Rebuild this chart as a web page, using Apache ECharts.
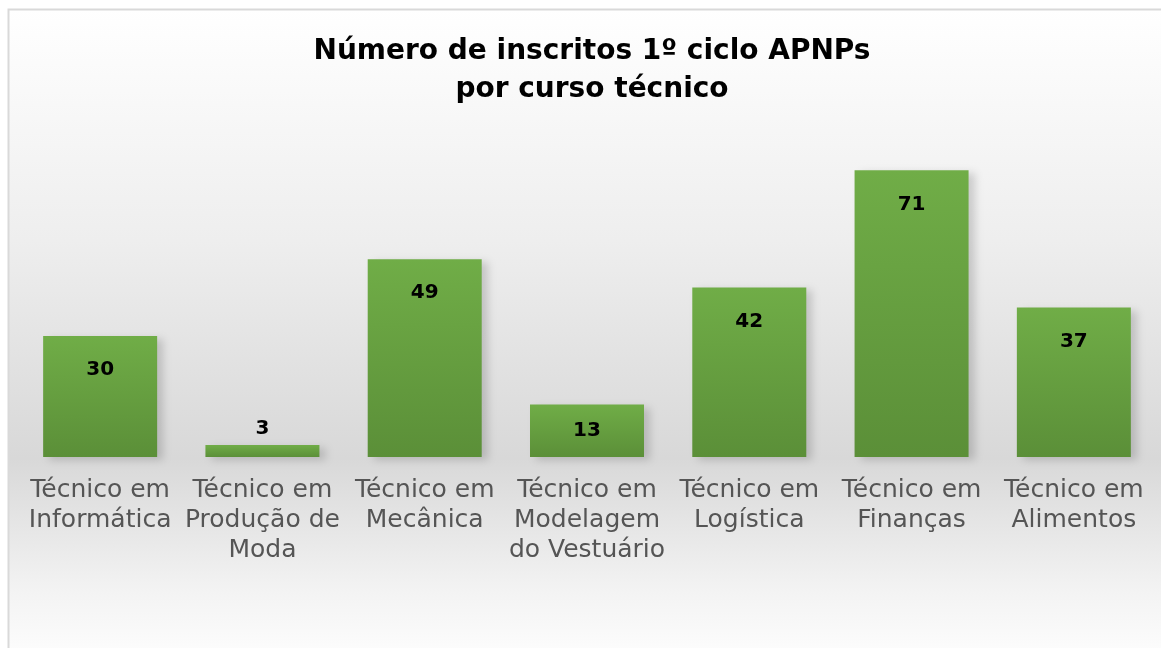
<!DOCTYPE html>
<html>
<head>
<meta charset="utf-8">
<script src="https://cdn.jsdelivr.net/npm/echarts@6/dist/echarts.min.js"></script>
<style>
html,body{margin:0;padding:0;background:#ffffff;}
#chart{width:1161px;height:648px;}
</style>
</head>
<body>
<div id="chart"></div>
<script>
const titleText = 'Número de inscritos 1º ciclo APNPs\npor curso técnico';
const categories = [
  'Técnico em\nInformática',
  'Técnico em\nProdução de\nModa',
  'Técnico em\nMecânica',
  'Técnico em\nModelagem\ndo Vestuário',
  'Técnico em\nLogística',
  'Técnico em\nFinanças',
  'Técnico em\nAlimentos'
];
const values = [30, 3, 49, 13, 42, 71, 37];

const chart = echarts.init(document.getElementById('chart'), null, {renderer: 'canvas'});

const seriesData = values.map(function (v) {
  let label;
  if (v < 8) {
    label = {position: 'top', distance: 6};
  } else if (v < 20) {
    label = {position: 'inside'};
  } else {
    label = {position: 'insideTop', distance: 24};
  }
  return {value: v, label: label};
});

chart.setOption({
  animation: false,
  graphic: [{
    type: 'rect',
    z: -10,
    silent: true,
    shape: {x: 8.5, y: 9.5, width: 1170, height: 660},
    style: {
      fill: new echarts.graphic.LinearGradient(0, 0, 0, 1, [
        {offset: 0, color: '#ffffff'},
        {offset: 0.35, color: '#eeeeee'},
        {offset: 0.68, color: '#d8d8d8'},
        {offset: 0.88, color: '#f3f3f3'},
        {offset: 1, color: '#ffffff'}
      ]),
      stroke: '#d9d9d9',
      lineWidth: 2
    }
  }],
  title: {
    text: titleText,
    left: 587,
    textAlign: 'center',
    top: 28,
    textStyle: {
      fontFamily: 'DejaVu Sans, Arial, sans-serif',
      fontWeight: 'bold',
      fontSize: 28,
      lineHeight: 38,
      color: '#000000'
    }
  },
  grid: {
    left: 19,
    right: 6,
    top: 134,
    bottom: 191,
    containLabel: false
  },
  xAxis: {
    type: 'category',
    data: categories,
    axisLine: {show: false},
    axisTick: {show: false},
    axisLabel: {
      interval: 0,
      margin: 18,
      fontFamily: 'DejaVu Sans, Arial, sans-serif',
      fontSize: 25,
      lineHeight: 30,
      color: '#555555'
    }
  },
  yAxis: {
    type: 'value',
    min: 0,
    max: 80,
    show: false,
    splitLine: {show: false}
  },
  series: [{
    type: 'bar',
    data: seriesData,
    barWidth: 114,
    itemStyle: {
      color: new echarts.graphic.LinearGradient(0, 0, 0, 1, [
        {offset: 0, color: '#70ad47'},
        {offset: 1, color: '#5b8f38'}
      ]),
      shadowColor: 'rgba(0,0,0,0.16)',
      shadowBlur: 8,
      shadowOffsetX: 6,
      shadowOffsetY: 3
    },
    label: {
      show: true,
      fontFamily: 'DejaVu Sans, Arial, sans-serif',
      fontWeight: 'bold',
      fontSize: 20,
      color: '#000000'
    }
  }]
});
</script>
</body>
</html>
